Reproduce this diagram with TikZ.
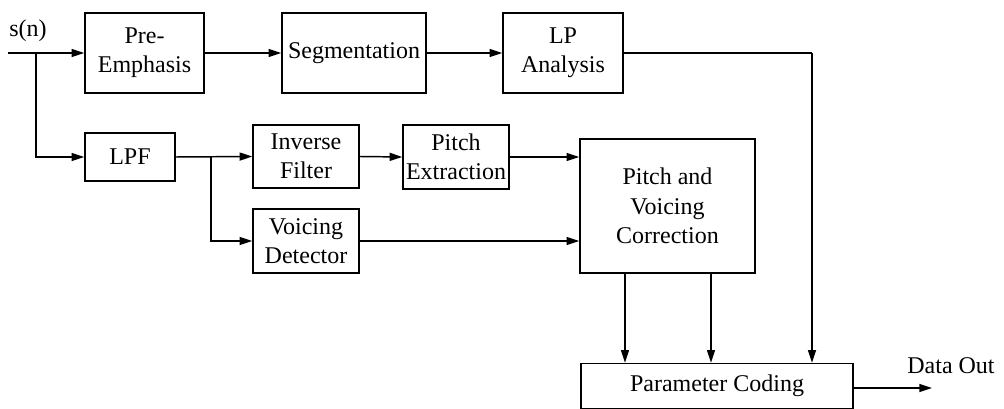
\documentclass[tikz,border=0pt]{standalone}
\usepackage{fontspec}
\setmainfont{Liberation Serif}
\usetikzlibrary{arrows.meta}
\begin{document}
\begin{tikzpicture}[x=0.75pt,y=-0.75pt,
  blk/.style={draw, line width=1.1pt, rectangle, align=center, inner sep=0pt,
    font=\fontsize{18}{22}\selectfont},
  lbl/.style={inner sep=0pt, font=\fontsize{18}{22}\selectfont},
  flow/.style={line width=1.1pt, -{Triangle[length=9.5pt,width=6pt]}},
  wire/.style={line width=1.1pt}]
\useasboundingbox (0,0) rectangle (1004,409);

% top row
\node[blk, minimum width=119*0.75pt, minimum height=80*0.75pt] (pre) at (144.5,53) {Pre-\\Emphasis};
\node[blk, minimum width=144*0.75pt, minimum height=80*0.75pt] (seg) at (354,53) {Segmentation};
\node[blk, minimum width=120*0.75pt, minimum height=80*0.75pt] (lpa) at (563,53) {LP\\Analysis};

% middle rows
\node[blk, minimum width=90*0.75pt, minimum height=48*0.75pt] (lpf) at (130,157) {LPF};
\node[blk, minimum width=106*0.75pt, minimum height=63*0.75pt] (inv) at (306,156.5) {Inverse\\Filter};
\node[blk, minimum width=106*0.75pt, minimum height=64*0.75pt] (pex) at (456,157) {Pitch\\Extraction};
\node[blk, minimum width=106*0.75pt, minimum height=64*0.75pt] (vd) at (306,241) {Voicing\\Detector};
\node[blk, minimum width=175*0.75pt, minimum height=134*0.75pt] (pvc) at (667.5,206) {Pitch and\\Voicing\\Correction};

% output stage
\node[blk, minimum width=272*0.75pt, minimum height=45*0.75pt] (pc) at (717,386) {Parameter Coding};

% signal labels and junction points
\node[lbl] (sn) at (28,31) {s(n)};
\node[lbl] (dout) at (951,366) {Data Out};
\coordinate (in) at (8,53);
\coordinate (split1) at (36,53);
\coordinate (split2) at (211,157);
\coordinate (lpcorner) at (812,53);
\coordinate (out) at (932,388);

% connectors
\draw[flow] (in) -- (pre.west);
\draw[flow] (split1) |- (lpf.west);
\draw[flow] (pre.east) -- (seg.west);
\draw[flow] (seg.east) -- (lpa.west);
\draw[wire] (lpa.east) -- (lpcorner);
\draw[flow] (lpcorner) -- (lpcorner |- pc.north);
\draw[flow] (lpf.east) -- (inv.west);
\draw[flow] (split2) |- (vd.west);
\draw[flow] (inv.east) -- (pex.west);
\draw[flow] (pex.east) -- (pvc.west |- pex.east);
\draw[flow] (vd.east) -- (pvc.west |- vd.east);
\draw[flow] ([xshift=-42.5*0.75pt]pvc.south) -- ([xshift=-42.5*0.75pt]pvc.south |- pc.north);
\draw[flow] ([xshift=43.5*0.75pt]pvc.south) -- ([xshift=43.5*0.75pt]pvc.south |- pc.north);
\draw[flow] (pc.east |- out) -- (out);
\end{tikzpicture}
\end{document}
